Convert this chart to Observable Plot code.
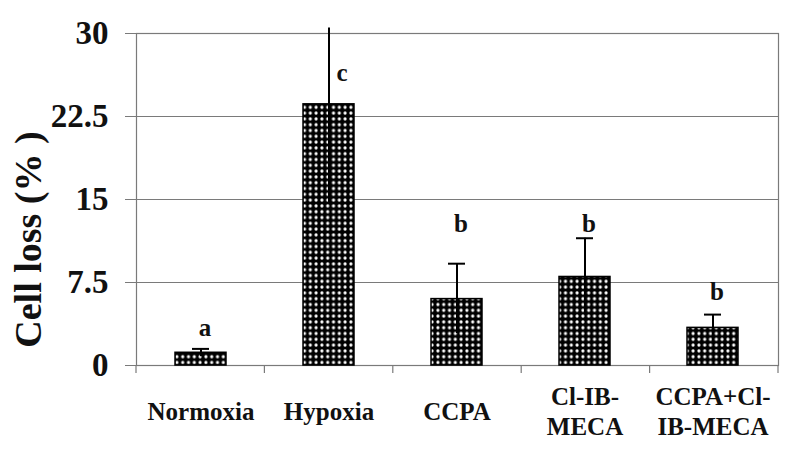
<!DOCTYPE html>
<html><head><meta charset="utf-8">
<script src="https://cdn.jsdelivr.net/npm/d3@7"></script>
<script src="https://cdn.jsdelivr.net/npm/@observablehq/plot@0.6"></script>
<style>body{margin:0;background:#fff}</style>
</head><body><div id="chart"></div>
<script>
const categories = ["Normoxia","Hypoxia","CCPA","Cl-IB-MECA","CCPA+Cl-IB-MECA"];
const tickLabels = ["Normoxia","Hypoxia","CCPA","Cl-IB-\nMECA","CCPA+Cl-\nIB-MECA"];
const cellLoss = [1.15, 23.6, 6.0, 8.0, 3.4];
const errLow = [0.8, 14.6, 2.9, 4.7, 2.1];
const errHigh = [1.5, 30.5, 9.2, 11.5, 4.6];
const sigLetters = ["a","c","b","b","b"];
const letterY = [3.4, 26.4, 12.8, 12.8, 6.6];
const yTicks = [0, 7.5, 15, 22.5, 30];
const yTitle = "Cell loss (% )";

const rows = categories.map((c, i) => ({c, label: tickLabels[i], v: cellLoss[i], lo: errLow[i], hi: errHigh[i], letter: sigLetters[i], ly: letterY[i]}));
const gray = "#7a7a7a";
const font = '"Liberation Serif","Times New Roman",serif';

const boundaries = (index, scales, values, dims) => {
  const n = categories.length;
  const step = (dims.width - dims.marginLeft - dims.marginRight) / n;
  const y0 = scales.y(0);
  const g = d3.create("svg:g").attr("stroke", gray).attr("stroke-width", 1.2);
  g.selectAll("line").data(d3.range(n + 1)).join("line")
    .attr("x1", i => dims.marginLeft + i * step).attr("x2", i => dims.marginLeft + i * step)
    .attr("y1", y0).attr("y2", y0 + 8);
  return g.node();
};

const plot = Plot.plot({
  width: 800, height: 449,
  marginLeft: 136, marginRight: 22, marginTop: 33, marginBottom: 84,
  style: {fontFamily: font, background: "#fff", color: "#111"},
  x: {domain: categories, paddingInner: 0.6, paddingOuter: 0.3, axis: null},
  y: {domain: [0, 30], axis: null},
  marks: [
    Plot.ruleY(yTicks, {stroke: gray, strokeWidth: 1.2, insetLeft: -11}),
    Plot.frame({stroke: gray, strokeWidth: 1.2}),
    boundaries,
    Plot.text(yTicks, {y: d => d, text: d => String(d), frameAnchor: "left", textAnchor: "end", dx: -28, fontSize: 33, fontWeight: "bold", fill: "#111"}),
    Plot.barY(rows, {x: "c", y: "v", fill: "url(#chk)", stroke: "#000", strokeWidth: 1.5}),
    Plot.ruleX(rows, {x: "c", y1: "lo", y2: "hi", stroke: "#000", strokeWidth: 2}),
    Plot.tickY(rows.filter(r => r.hi <= 30), {x: "c", y: "hi", stroke: "#000", strokeWidth: 2, insetLeft: 17, insetRight: 17}),
    Plot.text(rows.filter(r => r.ly > r.hi), {x: "c", y: "ly", text: "letter", dx: 4, fontSize: 25, fontWeight: "bold", fill: "#111"}),
    Plot.text(rows.filter(r => r.ly <= r.hi), {x: "c", y: "ly", text: "letter", dx: 13, fontSize: 25, fontWeight: "bold", fill: "#111"}),
    Plot.text(rows, {x: "c", text: "label", frameAnchor: "bottom", dy: 45, lineAnchor: "middle", lineHeight: 1.2, fontSize: 25, fontWeight: "bold", fill: "#111"}),
    Plot.text([yTitle], {text: d => d, frameAnchor: "left", textAnchor: "middle", dx: -108, dy: 40, rotate: -90, fontSize: 38, fontWeight: "bold", fill: "#111"})
  ]
});

const defs = d3.select(plot).insert("defs", ":first-child");
const pat = defs.append("pattern").attr("id", "chk").attr("patternUnits", "userSpaceOnUse")
  .attr("width", 5.8).attr("height", 5.8);
pat.append("rect").attr("width", 5.8).attr("height", 5.8).attr("fill", "#000");
pat.append("circle").attr("cx", 2.9).attr("cy", 2.9).attr("r", 1.6).attr("fill", "#fff");

document.getElementById("chart").appendChild(plot);
</script>
</body></html>
